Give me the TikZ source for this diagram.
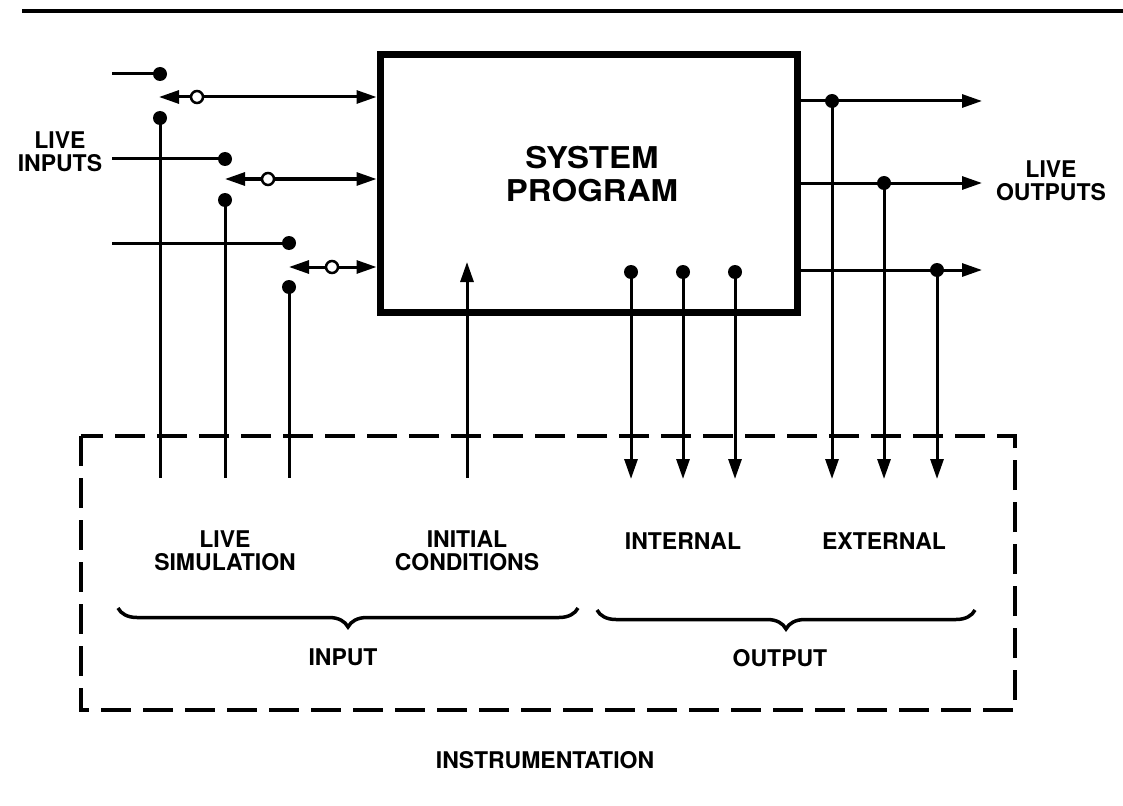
\documentclass[tikz,border=0pt]{standalone}
\usepackage{graphicx}
\usepackage{fontspec}
\setmainfont{TeX Gyre Heros}
\usetikzlibrary{arrows.meta,decorations.pathreplacing}
\begin{document}
\begin{tikzpicture}[x=1pt,y=-1pt,
  wire/.style={line width=3pt},
  arr/.style={wire,-{Triangle[length=20pt,width=13pt]}},
  darr/.style={wire,{Triangle[length=20pt,width=13pt]}-{Triangle[length=20pt,width=13pt]}},
  dot/.style={circle,fill=black,inner sep=0pt,minimum size=14pt},
  odot/.style={circle,draw=black,fill=white,line width=2.5pt,inner sep=0pt,minimum size=12pt},
  lbl/.style={font=\fontsize{23}{23}\selectfont\bfseries,align=center,inner sep=0pt},
  bracestyle/.style={line width=3.5pt,decorate,decoration={brace,mirror,amplitude=19pt}},
  dashbox/.style={line width=4pt,dash pattern=on 30pt off 12pt}]
\useasboundingbox (0,0) rectangle (1123,805);

% top rule
\draw[line width=4pt] (22,11) -- (1123,11);

% system program box
\node[draw,line width=7pt,minimum width=417pt,minimum height=257pt,inner sep=0pt] (sp) at (588.5,183.5) {};
\node[lbl,font=\fontsize{30}{33}\selectfont\bfseries] (title) at (592,174)
  {\scalebox{1.1}[1]{SYSTEM}\\\scalebox{1.1}[1]{PROGRAM}};

% ---------- left: live inputs with switches ----------
% row 1
\coordinate (in1) at (112,74);
\node[dot] (s1a) at (160,74) {};
\draw[wire] (in1) -- (s1a.center);
\node[dot] (s1b) at (160,118) {};
\coordinate (b1) at (160,478);
\draw[wire] (s1b.center) -- (b1);
\coordinate (t1) at (159,97);
\draw[darr] (t1) -- (t1 -| sp.west);
\node[odot] (c1) at (197,97) {};
% row 2
\coordinate (in2) at (112,159);
\node[dot] (s2a) at (225,159) {};
\draw[wire] (in2) -- (s2a.center);
\node[dot] (s2b) at (225,200) {};
\coordinate (b2) at (225,478);
\draw[wire] (s2b.center) -- (b2);
\coordinate (t2) at (225,179);
\draw[darr] (t2) -- (t2 -| sp.west);
\node[odot] (c2) at (268,179) {};
% row 3
\coordinate (in3) at (112,243);
\node[dot] (s3a) at (289,243) {};
\draw[wire] (in3) -- (s3a.center);
\node[dot] (s3b) at (289,287) {};
\coordinate (b3) at (289,478);
\draw[wire] (s3b.center) -- (b3);
\coordinate (t3) at (289,267);
\draw[darr] (t3) -- (t3 -| sp.west);
\node[odot] (c3) at (332,267) {};

% initial conditions
\coordinate (ic0) at (467,478);
\coordinate (ic1) at (467,262);
\draw[arr] (ic0) -- (ic1);

% ---------- internal outputs ----------
\node[dot] (i1) at (631,272) {};
\node[dot] (i2) at (683,272) {};
\node[dot] (i3) at (735,272) {};
\coordinate (ie1) at (631,479);
\coordinate (ie2) at (683,479);
\coordinate (ie3) at (735,479);
\draw[arr] (i1.center) -- (ie1);
\draw[arr] (i2.center) -- (ie2);
\draw[arr] (i3.center) -- (ie3);

% ---------- live outputs ----------
\coordinate (e1) at (982,101);
\coordinate (e2) at (982,183);
\coordinate (e3) at (982,270);
\draw[arr] (sp.east |- e1) -- (e1);
\draw[arr] (sp.east |- e2) -- (e2);
\draw[arr] (sp.east |- e3) -- (e3);
\node[dot] (o1) at (832,101) {};
\node[dot] (o2) at (884,183) {};
\node[dot] (o3) at (937,270) {};
\coordinate (q1) at (832,479);
\coordinate (q2) at (884,479);
\coordinate (q3) at (937,479);
\draw[arr] (o1.center) -- (q1);
\draw[arr] (o2.center) -- (q2);
\draw[arr] (o3.center) -- (q3);

% ---------- instrumentation box ----------
\draw[dashbox] (81,436) rectangle (1015,710);

\coordinate (bi0) at (118,608);
\coordinate (bi1) at (578,608);
\coordinate (bo0) at (597,610);
\coordinate (bo1) at (975,610);
\draw[bracestyle] (bi0) -- (bi1);
\draw[bracestyle] (bo0) -- (bo1);

% ---------- labels ----------
\node[lbl] (liveinputs) at (60,152) {LIVE\\INPUTS};
\node[lbl] (liveoutputs) at (1051,181) {LIVE\\OUTPUTS};
\node[lbl] (livesim) at (225,551) {LIVE\\SIMULATION};
\node[lbl] (initcond) at (467,551) {INITIAL\\CONDITIONS};
\node[lbl] (internal) at (683,541) {INTERNAL};
\node[lbl] (external) at (884,541) {EXTERNAL};
\node[lbl] (input) at (343,657) {INPUT};
\node[lbl] (output) at (780,658) {OUTPUT};
\node[lbl] (instr) at (545,760) {INSTRUMENTATION};
\end{tikzpicture}
\end{document}
